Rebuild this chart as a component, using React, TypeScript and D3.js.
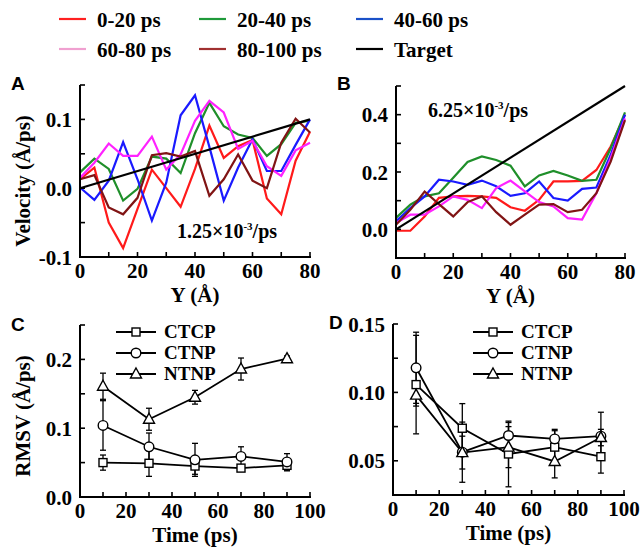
import React from 'react';
import * as d3 from 'd3';

// ---------- data ----------
const posY = [0, 5, 10, 15, 20, 25, 30, 35, 40, 45, 50, 55, 60, 65, 70, 75, 80];

const velA_0_20 = [0.013, 0.030, -0.050, -0.087, -0.030, 0.027, 0.0, -0.027, 0.028, 0.091, 0.044, 0.061, 0.070, -0.015, -0.038, 0.040, 0.082];
const velA_20_40 = [0.023, 0.043, 0.028, -0.018, -0.001, 0.046, 0.043, 0.022, 0.080, 0.124, 0.090, 0.078, 0.073, 0.047, 0.064, 0.095, 0.098];
const velA_40_60 = [0.001, -0.017, 0.011, 0.067, 0.013, -0.047, 0.008, 0.106, 0.135, 0.060, -0.018, 0.030, 0.071, 0.025, 0.025, 0.063, 0.100];
const velA_60_80 = [0.015, 0.037, 0.065, 0.047, 0.047, 0.075, 0.027, 0.049, 0.098, 0.127, 0.110, 0.057, 0.069, 0.032, 0.018, 0.055, 0.066];
const velA_80_100 = [0.013, 0.019, -0.028, -0.038, -0.014, 0.048, 0.051, 0.046, 0.054, -0.011, 0.013, 0.049, 0.011, 0.000, 0.066, 0.101, 0.081];

const velB_0_20 = [-0.005, -0.005, 0.045, 0.110, 0.115, 0.117, 0.115, 0.110, 0.077, 0.065, 0.103, 0.167, 0.167, 0.169, 0.207, 0.289, 0.400];
const velB_20_40 = [0.040, 0.086, 0.115, 0.126, 0.180, 0.235, 0.254, 0.242, 0.222, 0.150, 0.188, 0.204, 0.188, 0.169, 0.173, 0.283, 0.408];
const velB_40_60 = [0.028, 0.074, 0.115, 0.173, 0.167, 0.155, 0.170, 0.150, 0.117, 0.126, 0.167, 0.109, 0.100, 0.141, 0.146, 0.260, 0.400];
const velB_60_80 = [0.022, 0.051, 0.051, 0.080, 0.115, 0.103, 0.074, 0.144, 0.170, 0.132, 0.095, 0.080, 0.039, 0.034, 0.126, 0.248, 0.387];
const velB_80_100 = [0.016, 0.068, 0.132, 0.088, 0.045, 0.095, 0.115, 0.060, 0.016, 0.051, 0.086, 0.088, 0.060, 0.068, 0.126, 0.236, 0.381];

const targetX = [0, 80];
const targetA = [0, 0.1];
const targetB = [0, 0.5];

const legendLabels = ['0-20 ps', '20-40 ps', '40-60 ps', '60-80 ps', '80-100 ps', 'Target'];
const seriesColors = ['#ff1a1a', '#1f8f2a', '#1a1aff', '#ff22ff', '#801414', '#000000'];
const legendColors = ['#ff2020', '#1f9a3a', '#1a50c8', '#f0a0d0', '#a03030', '#000000'];

const times = [10, 30, 50, 70, 90];
const rmsNames = ['CTCP', 'CTNP', 'NTNP'];
const rmsC_CTCP = [0.050, 0.049, 0.045, 0.042, 0.046];
const rmsC_CTCP_err = [0.011, 0.019, 0.012, 0.004, 0.008];
const rmsC_CTNP = [0.104, 0.073, 0.054, 0.059, 0.051];
const rmsC_CTNP_err = [0.036, 0.020, 0.024, 0.014, 0.012];
const rmsC_NTNP = [0.161, 0.113, 0.145, 0.186, 0.201];
const rmsC_NTNP_err = [0.019, 0.016, 0.010, 0.016, 0.004];

const rmsD_CTCP = [0.1057, 0.0738, 0.055, 0.060, 0.053];
const rmsD_CTCP_err = [0.036, 0.018, 0.024, 0.012, 0.012];
const rmsD_CTNP = [0.118, 0.0563, 0.0685, 0.066, 0.068];
const rmsD_CTNP_err = [0.026, 0.022, 0.0095, 0.007, 0.0175];
const rmsD_NTNP = [0.098, 0.056, 0.060, 0.0495, 0.067];
const rmsD_NTNP_err = [0.008, 0.012, 0.015, 0.012, 0.006];

const ticksY80 = { major: [0, 20, 40, 60, 80], minor: [10, 30, 50, 70] };
const ticksT100 = { major: [0, 20, 40, 60, 80, 100], minor: [10, 30, 50, 70, 90] };
const yTicksA = { major: [-0.1, 0, 0.1], minor: [-0.05, 0.05, 0.15], labels: ['-0.1', '0.0', '0.1'] };
const yTicksB = { major: [0, 0.2, 0.4], minor: [-0.1, 0.1, 0.3, 0.5], labels: ['0.0', '0.2', '0.4'] };
const yTicksC = { major: [0, 0.1, 0.2], minor: [0.05, 0.15, 0.25], labels: ['0.0', '0.1', '0.2'] };
const yTicksD = { major: [0.05, 0.1, 0.15], minor: [0.075, 0.125], labels: ['0.05', '0.10', '0.15'] };

// ---------- styles ----------
const SERIF = '"Liberation Serif","Times New Roman",serif';
const SANS = '"Liberation Sans",Arial,sans-serif';
const FS = 21;

type Sc = d3.ScaleLinear<number, number>;

function Axes(props: { x: Sc; y: Sc; xt: { major: number[]; minor: number[] }; yt: { major: number[]; minor: number[]; labels: string[] }; xTitle: string; yTitle?: string; yTitleX?: number; yTitleY?: number }) {
  const { x, y, xt, yt } = props;
  const [x0, x1] = x.range();
  const [y0, y1] = y.range();
  const tl = 5;
  return (
    <g>
      <line x1={x0} x2={x0} y1={y0 + 1} y2={y1} stroke="#000" strokeWidth={2} />
      <line x1={x0 - 1} x2={x1 + 1} y1={y0} y2={y0} stroke="#000" strokeWidth={2} />
      {yt.major.concat(yt.minor).map((v, i) => (
        <line key={'yt' + i} x1={x0} x2={x0 + tl} y1={y(v)} y2={y(v)} stroke="#000" strokeWidth={1.6} />
      ))}
      {xt.major.concat(xt.minor).map((v, i) => (
        <line key={'xt' + i} x1={x(v)} x2={x(v)} y1={y0} y2={y0 - tl} stroke="#000" strokeWidth={1.6} />
      ))}
      {yt.major.map((v, i) => (
        <text key={'yl' + i} x={x0 - 8} y={y(v)} dy="0.36em" textAnchor="end" fontFamily={SERIF} fontWeight="bold" fontSize={FS}>
          {yt.labels[i]}
        </text>
      ))}
      {xt.major.map((v, i) => (
        <text key={'xl' + i} x={x(v)} y={y0 + 21} textAnchor="middle" fontFamily={SERIF} fontWeight="bold" fontSize={FS}>
          {String(v)}
        </text>
      ))}
      <text x={(x0 + x1) / 2} y={y0 + 45} textAnchor="middle" fontFamily={SERIF} fontWeight="bold" fontSize={FS}>
        {props.xTitle}
      </text>
      {props.yTitle ? (
        <text transform={`translate(${props.yTitleX},${props.yTitleY}) rotate(-90)`} textAnchor="middle" fontFamily={SERIF} fontWeight="bold" fontSize={FS}>
          {props.yTitle}
        </text>
      ) : null}
    </g>
  );
}

function Marker(props: { kind: number; cx: number; cy: number }) {
  const { kind, cx, cy } = props;
  const st = { fill: '#fff', stroke: '#000', strokeWidth: 1.4 };
  if (kind === 0) return <rect x={cx - 4} y={cy - 4} width={8} height={8} {...st} />;
  if (kind === 1) return <circle cx={cx} cy={cy} r={4.8} {...st} />;
  return <path d={`M${cx},${cy - 6}L${cx + 5.5},${cy + 4}L${cx - 5.5},${cy + 4}Z`} {...st} />;
}

function VelPanel(props: { x: Sc; y: Sc; series: number[][]; target: number[] }) {
  const { x, y } = props;
  const line = d3.line<number>().x((_, i) => x(posY[i])).y((d) => y(d));
  const tline = d3.line<number>().x((_, i) => x(targetX[i])).y((d) => y(d));
  return (
    <g>
      {props.series.map((s, k) => (
        <path key={k} d={line(s) || ''} fill="none" stroke={seriesColors[k]} strokeWidth={2.2} strokeLinejoin="miter" />
      ))}
      <path d={tline(props.target) || ''} fill="none" stroke="#000" strokeWidth={2.2} />
    </g>
  );
}

function RmsPanel(props: { x: Sc; y: Sc; vals: number[][]; errs: number[][]; legX: number }) {
  const { x, y } = props;
  const line = d3.line<number>().x((_, i) => x(times[i])).y((d) => y(d));
  return (
    <g>
      {props.vals.map((s, k) => (
        <path key={'l' + k} d={line(s) || ''} fill="none" stroke="#000" strokeWidth={1.8} />
      ))}
      {props.vals.map((s, k) =>
        s.map((v, i) => {
          const e = props.errs[k][i];
          const cx = x(times[i]);
          return (
            <g key={'e' + k + '_' + i} stroke="#000" strokeWidth={1.3}>
              <line x1={cx} x2={cx} y1={y(v - e)} y2={y(v + e)} />
              <line x1={cx - 3} x2={cx + 3} y1={y(v - e)} y2={y(v - e)} />
              <line x1={cx - 3} x2={cx + 3} y1={y(v + e)} y2={y(v + e)} />
            </g>
          );
        })
      )}
      {props.vals.map((s, k) => s.map((v, i) => <Marker key={'m' + k + '_' + i} kind={k} cx={x(times[i])} cy={y(v)} />))}
      {rmsNames.map((n, k) => {
        const ly = 332 + k * 21;
        return (
          <g key={'lg' + k}>
            <line x1={props.legX} x2={props.legX + 40} y1={ly} y2={ly} stroke="#000" strokeWidth={1.8} />
            <Marker kind={k} cx={props.legX + 20} cy={ly} />
            <text x={props.legX + 48} y={ly} dy="0.34em" fontFamily={SERIF} fontWeight="bold" fontSize={19}>
              {n}
            </text>
          </g>
        );
      })}
    </g>
  );
}

function Sup(props: { x: number; y: number; base: string }) {
  return (
    <text x={props.x} y={props.y} fontFamily={SERIF} fontWeight="bold" fontSize={20}>
      {props.base}
      <tspan dy={-8} fontSize={11}>-3</tspan>
      <tspan dy={8}>/ps</tspan>
    </text>
  );
}

export default function App() {
  const xA = d3.scaleLinear().domain([0, 80]).range([80, 310]);
  const yA = d3.scaleLinear().domain([-0.1, 0.15]).range([257, 85]);
  const xB = d3.scaleLinear().domain([0, 80]).range([396, 625]);
  const yB = d3.scaleLinear().domain([-0.1, 0.5]).range([258, 86]);
  const xC = d3.scaleLinear().domain([0, 100]).range([80, 310]);
  const yC = d3.scaleLinear().domain([0, 0.25]).range([497, 325]);
  const xD = d3.scaleLinear().domain([0, 100]).range([393, 624]);
  const yD = d3.scaleLinear().domain([0.025, 0.15]).range([495, 324]);

  const legCols = [59, 199, 356];
  const legRows = [19, 49];

  return (
    <svg width={642} height={548} style={{ position: 'absolute', left: 0, top: 0, background: '#fff' }}>
      <rect x={0} y={0} width={642} height={548} fill="#fff" />
      {/* legend */}
      {legendLabels.map((lab, i) => {
        const cx = legCols[i % 3];
        const cy = legRows[Math.floor(i / 3)];
        return (
          <g key={'leg' + i}>
            <line x1={cx} x2={cx + 27} y1={cy} y2={cy} stroke={legendColors[i]} strokeWidth={2.2} />
            <text x={cx + 38} y={cy} dy="0.36em" fontFamily={SERIF} fontWeight="bold" fontSize={21}>
              {lab}
            </text>
          </g>
        );
      })}

      {/* Panel A */}
      <VelPanel x={xA} y={yA} series={[velA_0_20, velA_20_40, velA_40_60, velA_60_80, velA_80_100]} target={targetA} />
      <Axes x={xA} y={yA} xt={ticksY80} yt={yTicksA} xTitle="Y (Å)" yTitle="Velocity (Å/ps)" yTitleX={30} yTitleY={181} />
      <Sup x={177} y={238} base="1.25×10" />
      <text x={11} y={90} fontFamily={SANS} fontWeight="bold" fontSize={19}>A</text>

      {/* Panel B */}
      <VelPanel x={xB} y={yB} series={[velB_0_20, velB_20_40, velB_40_60, velB_60_80, velB_80_100]} target={targetB} />
      <Axes x={xB} y={yB} xt={ticksY80} yt={yTicksB} xTitle="Y (Å)" />
      <Sup x={428} y={117} base="6.25×10" />
      <text x={337} y={90} fontFamily={SANS} fontWeight="bold" fontSize={19}>B</text>

      {/* Panel C */}
      <RmsPanel x={xC} y={yC} vals={[rmsC_CTCP, rmsC_CTNP, rmsC_NTNP]} errs={[rmsC_CTCP_err, rmsC_CTNP_err, rmsC_NTNP_err]} legX={116} />
      <Axes x={xC} y={yC} xt={ticksT100} yt={yTicksC} xTitle="Time (ps)" yTitle="RMSV (Å/ps)" yTitleX={30} yTitleY={416} />
      <text x={11} y={331} fontFamily={SANS} fontWeight="bold" fontSize={19}>C</text>

      {/* Panel D */}
      <RmsPanel x={xD} y={yD} vals={[rmsD_CTCP, rmsD_CTNP, rmsD_NTNP]} errs={[rmsD_CTCP_err, rmsD_CTNP_err, rmsD_NTNP_err]} legX={473} />
      <Axes x={xD} y={yD} xt={ticksT100} yt={yTicksD} xTitle="Time (ps)" />
      <text x={329} y={329} fontFamily={SANS} fontWeight="bold" fontSize={19}>D</text>
    </svg>
  );
}
